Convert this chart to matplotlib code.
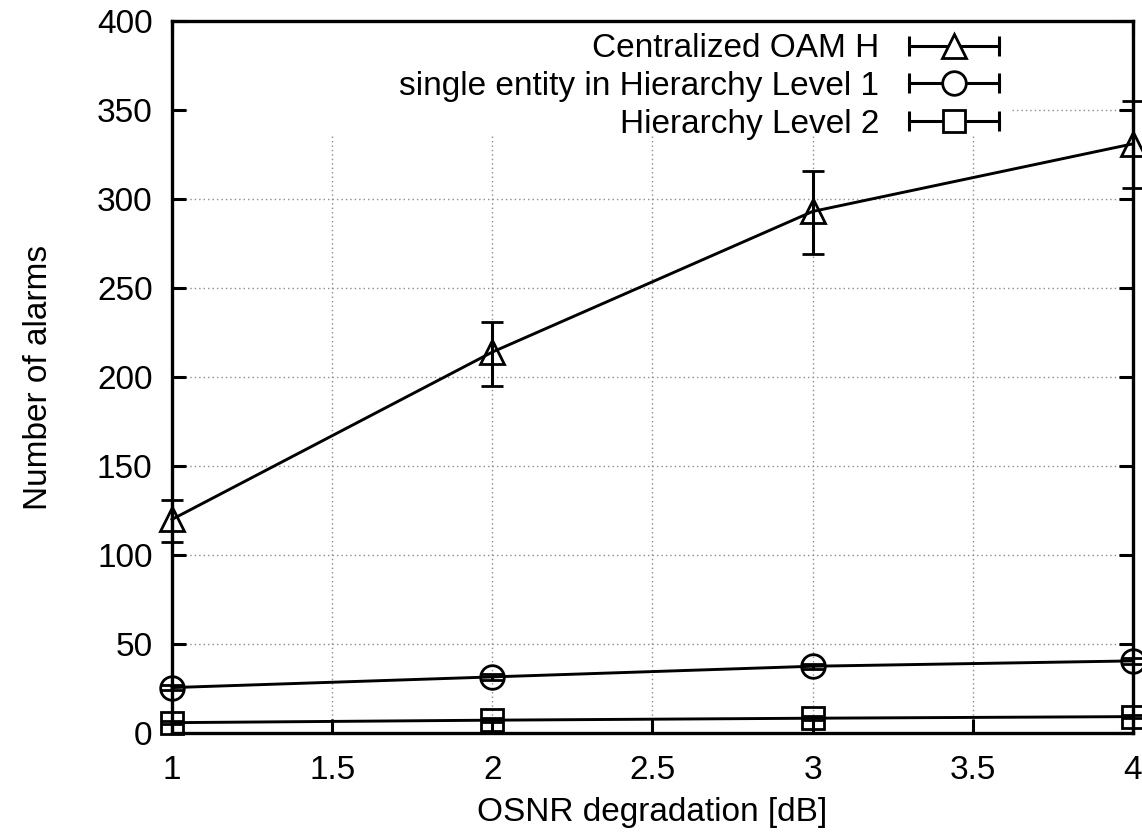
import matplotlib
matplotlib.use("Agg")
import matplotlib.pyplot as plt
from matplotlib.lines import Line2D
from matplotlib.patches import Rectangle
from matplotlib.legend_handler import HandlerLine2D, HandlerTuple

plt.rcParams['font.family'] = ['Liberation Sans', 'DejaVu Sans']

# ---- data ----
x = [1, 2, 3, 4]
central = [120, 214, 293, 331]
central_lo = [107.5, 195, 269, 306]
central_hi = [131, 231, 316, 355]
level1 = [25.5, 31.5, 37.5, 40.5]
level1_err = [1.5, 1.5, 1.5, 1.5]
level2 = [5.8, 7.2, 8.3, 9.2]
level2_err = [1.0, 1.0, 1.0, 1.0]

labels = ["Centralized OAM H", "single entity in Hierarchy Level 1", "Hierarchy Level 2"]
xticks = [1, 1.5, 2, 2.5, 3, 3.5, 4]
xticklabels = ["1", "1.5", "2", "2.5", "3", "3.5", "4"]
yticks = [0, 50, 100, 150, 200, 250, 300, 350, 400]
yticklabels = ["0", "50", "100", "150", "200", "250", "300", "350", "400"]

fig = plt.figure(figsize=(11.42, 8.4), dpi=100)
ax = fig.add_axes([0.1506, 0.1274, 0.8415, 0.8476])

FS = 24
LW = 2.1
common = dict(color='black', lw=LW, capsize=8, capthick=2.2, elinewidth=2.2,
              mfc='none', mec='black', mew=2.0, clip_on=False, zorder=3)

c_err = [[c - l for c, l in zip(central, central_lo)],
         [h - c for c, h in zip(central, central_hi)]]
ax.errorbar(x, central, yerr=c_err, marker='^', ms=17, **common)
ax.errorbar(x, level1, yerr=level1_err, marker='o', ms=17, **common)
ax.errorbar(x, level2, yerr=level2_err, marker='s', ms=16, **common)

ax.set_xlim(1, 4)
ax.set_ylim(0, 400)
ax.set_xticks(xticks)
ax.set_xticklabels(xticklabels)
ax.set_yticks(yticks)
ax.set_yticklabels(yticklabels)
ax.tick_params(direction='in', length=10, width=2.2, top=True, right=True,
               labelsize=FS, pad=14)
ax.tick_params(axis='x', pad=16)
for s in ax.spines.values():
    s.set_linewidth(2.4)

ax.set_axisbelow(True)
ax.grid(True, linestyle=(0, (1, 2.2)), color='#8c8c8c', lw=1.0)

# white area behind key (gnuplot hides the grid there)
ax.add_patch(Rectangle((0.019, 0.84), 0.853, 0.16, transform=ax.transAxes,
                       fc='white', ec='none', zorder=1))

ax.set_xlabel("OSNR degradation [dB]", fontsize=FS, labelpad=8)
ax.set_ylabel("Number of alarms", fontsize=FS, labelpad=31)

# legend: errorbar style handle (horizontal line with caps, marker in middle)
handles = []
hmap = {}
for m, ms in [('^', 17), ('o', 17), ('s', 16)]:
    caps = Line2D([], [], color='black', lw=2.2, marker='|', ms=14, mew=2.2)
    mk = Line2D([], [], ls='none', marker=m, ms=ms, mfc='white', mec='black', mew=2.0)
    hmap[caps] = HandlerLine2D(numpoints=2, marker_pad=0)
    handles.append((caps, mk))
hmap[tuple] = HandlerTuple(ndivide=1)
leg = ax.legend(handles, labels, loc='upper right', bbox_to_anchor=(0.868, 0.992),
                fontsize=FS, markerfirst=False, frameon=False, handlelength=2.7,
                handletextpad=0.9, labelspacing=0.2, borderpad=0.2,
                borderaxespad=0, handler_map=hmap)
for t in leg.get_texts():
    t.set_ha('right')

fig.savefig("out.png", dpi=100)
